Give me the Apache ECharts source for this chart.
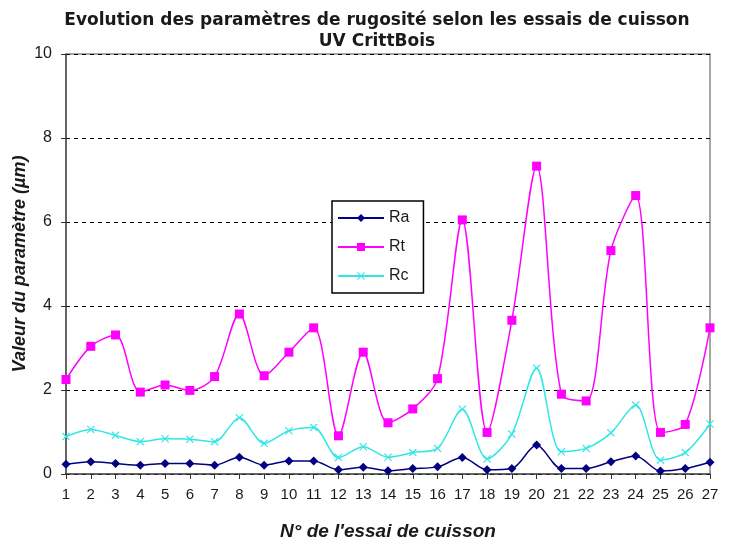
<!DOCTYPE html>
<html>
<head>
<meta charset="utf-8">
<script src="https://cdn.jsdelivr.net/npm/echarts@6/dist/echarts.min.js"></script>
<style>
  html, body { margin: 0; padding: 0; background: #fff; }
  #chart { width: 729px; height: 544px; }
</style>
</head>
<body>
<div id="chart"></div>
<script>
// Essais de cuisson UV (numéros 1 à 27)
const essais = ['1','2','3','4','5','6','7','8','9','10','11','12','13','14','15','16','17','18','19','20','21','22','23','24','25','26','27'];

// Paramètres de rugosité (µm)
const ra = [0.23,0.29,0.25,0.21,0.25,0.25,0.21,0.40,0.21,0.31,0.31,0.10,0.16,0.08,0.13,0.17,0.39,0.10,0.13,0.69,0.13,0.13,0.29,0.43,0.07,0.13,0.28];
const rt = [2.25,3.04,3.31,1.95,2.12,1.99,2.32,3.81,2.34,2.90,3.48,0.91,2.90,1.22,1.55,2.27,6.05,0.99,3.66,7.33,1.90,1.74,5.32,6.63,0.99,1.18,3.48];
const rc = [0.89,1.06,0.92,0.77,0.84,0.83,0.77,1.34,0.73,1.03,1.11,0.39,0.65,0.40,0.51,0.61,1.54,0.36,0.95,2.52,0.53,0.61,0.98,1.64,0.33,0.51,1.19];

const yTicks = [0, 2, 4, 6, 8, 10];

const FONT = '"Liberation Sans", Arial, sans-serif';
const TITLE_FONT = '"DejaVu Sans", "Liberation Sans", sans-serif';
const crossSymbol = 'path://M0,1L1,0L5,4L9,0L10,1L6,5L10,9L9,10L5,6L1,10L0,9L4,5Z';

const chart = echarts.init(document.getElementById('chart'), null, { renderer: 'canvas' });

chart.setOption({
  backgroundColor: '#ffffff',
  animation: false,
  title: {
    text: 'Evolution des paramètres de rugosité selon les essais de cuisson\nUV CrittBois',
    left: 372,
    textAlign: 'center',
    top: 5,
    textStyle: { fontFamily: TITLE_FONT, fontSize: 17, fontWeight: 'bold', color: '#1a1a1a', lineHeight: 21 }
  },
  legend: {
    orient: 'vertical',
    left: 332,
    top: 201,
    padding: [9, 14, 9, 5],
    itemGap: 13,
    itemWidth: 46,
    itemHeight: 10,
    backgroundColor: '#fff',
    borderColor: '#000',
    borderWidth: 1.5,
    textStyle: { fontFamily: FONT, fontSize: 16, color: '#1a1a1a' },
    data: ['Ra', 'Rt', 'Rc']
  },
  grid: { left: 66, right: 19, top: 54, bottom: 70, containLabel: false, outerBoundsMode: 'none' },
  xAxis: {
    type: 'category',
    data: essais,
    boundaryGap: false,
    name: "N° de l'essai de cuisson",
    nameLocation: 'middle',
    nameGap: 48,
    nameTextStyle: { fontFamily: FONT, fontSize: 19, fontStyle: 'italic', fontWeight: 'bold', color: '#1a1a1a' },
    axisLine: { lineStyle: { color: '#333', width: 1.5 } },
    axisTick: { show: true, inside: false, length: 5, alignWithLabel: true, lineStyle: { color: '#333' } },
    axisLabel: { interval: 0, margin: 13, fontFamily: FONT, fontSize: 15, color: '#1a1a1a' },
    splitLine: { show: false }
  },
  yAxis: {
    type: 'value',
    min: yTicks[0],
    max: yTicks[yTicks.length - 1],
    interval: 2,
    name: 'Valeur du paramètre (µm)',
    nameLocation: 'middle',
    nameGap: 37,
    nameMoveOverlap: false,
    nameTextStyle: { fontFamily: FONT, fontSize: 18, fontStyle: 'italic', fontWeight: 'bold', color: '#1a1a1a' },
    axisLine: { show: true, lineStyle: { color: '#333', width: 1.5 } },
    axisTick: { show: true, length: 5, lineStyle: { color: '#333' } },
    axisLabel: { margin: 14, fontFamily: FONT, fontSize: 16, color: '#1a1a1a' },
    splitLine: { show: true, lineStyle: { color: '#000', type: [4, 4], width: 1 } }
  },
  series: [
    {
      name: 'Ra', type: 'line', data: ra, smooth: 0.3,
      symbol: 'diamond', symbolSize: 9,
      lineStyle: { color: '#000080', width: 1.5 },
      itemStyle: { color: '#000080' }
    },
    {
      name: 'Rt', type: 'line', data: rt, smooth: 0.3,
      symbol: 'rect', symbolSize: 9,
      lineStyle: { color: '#ff00ff', width: 1.5 },
      itemStyle: { color: '#ff00ff' }
    },
    {
      name: 'Rc', type: 'line', data: rc, smooth: 0.3,
      symbol: crossSymbol, symbolSize: 8,
      lineStyle: { color: '#33e6e6', width: 1.5 },
      itemStyle: { color: '#33e6e6' }
    }
  ],
  graphic: [
    // cadre de la zone de tracé (haut et droite)
    {
      type: 'polyline',
      shape: { points: [[66, 54], [710, 54], [710, 474]] },
      style: { stroke: '#888', lineWidth: 1.5, fill: null },
      silent: true, z: 0
    }
  ]
});
</script>
</body>
</html>
